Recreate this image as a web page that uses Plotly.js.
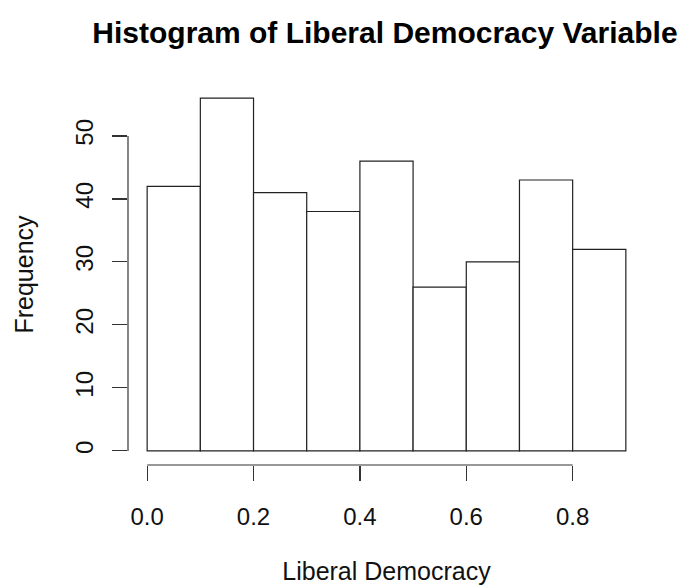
<!DOCTYPE html>
<html><head><meta charset="utf-8">
<script src="https://cdn.plot.ly/plotly-3.0.1.min.js"></script>
<style>body{margin:0;background:#fff}#chart{width:685px;height:585px}</style>
</head><body><div id="chart"></div>
<script>
const breaks = [0.0, 0.1, 0.2, 0.3, 0.4, 0.5, 0.6, 0.7, 0.8, 0.9];
const counts = [42, 56, 41, 38, 46, 26, 30, 43, 32];
const xTicks = [0.0, 0.2, 0.4, 0.6, 0.8];
const xTickText = ["0.0", "0.2", "0.4", "0.6", "0.8"];
const yTicks = [0, 10, 20, 30, 40, 50];

const mids = counts.map((c, i) => (breaks[i] + breaks[i + 1]) / 2);
const widths = counts.map((c, i) => breaks[i + 1] - breaks[i]);
const font = "Liberation Sans, Arial, Helvetica, sans-serif";

const xmin = breaks[0], xmax = breaks[breaks.length - 1];
const ymax = Math.max(...counts);
const xr = [xmin - 0.04 * (xmax - xmin), xmax + 0.04 * (xmax - xmin)];
const yr = [0 - 0.04 * ymax, ymax + 0.04 * ymax];

const trace = {
  type: "bar", x: mids, y: counts, width: widths,
  marker: {color: "#ffffff", line: {color: "#222", width: 1.2}},
  hoverinfo: "skip"
};

const layout = {
  width: 685, height: 585,
  margin: {l: 128, r: 40, t: 84, b: 120},
  paper_bgcolor: "#fff", plot_bgcolor: "#fff",
  showlegend: false,
  title: {text: "<b>Histogram of Liberal Democracy Variable</b>", font: {family: font, size: 30, color: "#000"},
          x: 0.562, xanchor: "center", y: 0.945, yanchor: "middle"},
  xaxis: {range: xr, tickvals: xTicks, ticktext: xTickText, ticks: "outside", ticklen: 15, tickwidth: 1.2,
          tickcolor: "#333", showgrid: false, zeroline: false, showline: false,
          tickfont: {family: font, size: 24, color: "#111"}, ticklabelstandoff: 15,
          title: {text: "Liberal Democracy", font: {family: font, size: 25, color: "#111"}, standoff: 34}},
  yaxis: {range: yr, tickvals: yTicks, ticks: "outside", ticklen: 15, tickwidth: 1.2, tickangle: -90,
          tickcolor: "#333", showgrid: false, zeroline: false, showline: false,
          tickfont: {family: font, size: 24, color: "#111"}, ticklabelstandoff: 9,
          title: {text: "Frequency", font: {family: font, size: 25, color: "#111"}, standoff: 30}},
  shapes: [
    {type: "line", xref: "x", yref: "paper", x0: xTicks[0], x1: xTicks[xTicks.length - 1], y0: 0, y1: 0,
     line: {color: "#333", width: 1.2}},
    {type: "line", xref: "paper", yref: "y", x0: 0, x1: 0, y0: yTicks[0], y1: yTicks[yTicks.length - 1],
     line: {color: "#333", width: 1.2}}
  ]
};
Plotly.newPlot("chart", [trace], layout, {displayModeBar: false, staticPlot: true});
</script></body></html>
